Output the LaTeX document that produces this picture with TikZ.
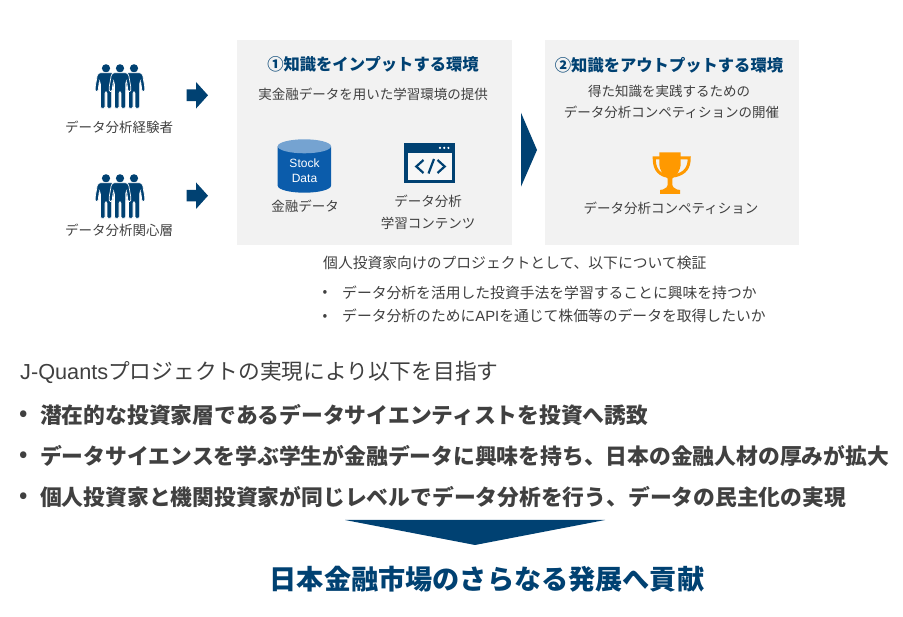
\documentclass[tikz,border=0pt]{standalone}
\usepackage{fontspec}
\setmainfont{Noto Sans CJK JP}
\newfontfamily\latinf{Liberation Sans}
\definecolor{navy}{HTML}{004172}
\definecolor{panel}{HTML}{F2F2F2}
\definecolor{txt}{HTML}{404040}
\definecolor{dbtop}{HTML}{75A3D1}
\definecolor{dbbody}{HTML}{0B5CAB}
\definecolor{gold}{HTML}{FF9900}
\newcommand{\fs}[1]{\fontsize{#1}{#1}\selectfont}
\tikzset{
 x=1pt,y=-1pt,
 lbl/.style={inner sep=0pt,text=txt,font=\fs{13.5},anchor=center},
 body/.style={lbl,font=\fs{14.8},anchor=west},
 smalldot/.style={lbl,font=\fs{14}},
 head/.style={inner sep=0pt,text=navy,font=\fs{16.3}\bfseries,anchor=center},
 big/.style={inner sep=0pt,text=txt,font=\fs{21.78}\bfseries,anchor=west},
 bigdot/.style={inner sep=0pt,text=txt,font=\fs{21}\bfseries,anchor=center},
 panelbox/.style={fill=panel,draw=none},
 navyfill/.style={fill=navy,draw=none},
 dbtext/.style={inner sep=0pt,text=white,font=\latinf\fs{12}},
 person/.pic={
  \fill[navy] (0,-4.7) circle (4.1);
  \path[fill=navy,draw=white,line width=.7,rounded corners=1.2]
   (-6.5,-.3) -- (6.5,-.3) -- (8.6,1.5) -- (10.8,14) -- (10.8,18.5) -- (8,18.5) -- (6.6,8) -- (5.6,10) -- (5.6,35.3) -- (1,35.3) -- (1,19) -- (-1,19) -- (-1,35.3) -- (-5.6,35.3) -- (-5.6,10) -- (-6.6,8) -- (-8,18.5) -- (-10.8,18.5) -- (-10.8,14) -- (-8.6,1.5) -- cycle;
 },
 peoplegroup/.pic={
  \pic at (-14,0) {person};
  \pic at (14,0) {person};
  \pic at (0,0) {person};
 },
 blockarrow/.pic={
  \fill[navy] (-10.3,-5.8) -- (-1,-5.8) -- (-1,-13.3) -- (11,0) -- (-1,13.3) -- (-1,5.8) -- (-10.3,5.8) -- cycle;
 }
}
\begin{document}
\begin{tikzpicture}
\useasboundingbox (0,0) rectangle (903,617);
\fill[white] (0,0) rectangle (903,617);
% panels
\path[panelbox] (237,40) rectangle (512,245);
\path[panelbox] (545,40) rectangle (799,245);
\path[navyfill] (521,112.7) -- (537,150) -- (521,186.7) -- cycle;
% people
\pic at (120,73) {peoplegroup};
\pic at (120,183) {peoplegroup};
\pic at (197,95.3) {blockarrow};
\pic at (197,195.7) {blockarrow};
\node[lbl] (exp) at (119,127.5) {データ分析経験者};
\node[lbl] (int) at (119,230) {データ分析関心層};
% panel 1
\node[head] (h1) at (373,64) {①知識をインプットする環境};
\node[lbl] (s1) at (373,94) {実金融データを用いた学習環境の提供};
% cylinder
\fill[dbbody] (277.7,146.3) -- (277.7,185.7) arc[start angle=180,end angle=0,x radius=26.65,y radius=7] -- (331,146.3) -- cycle;
\fill[dbtop] (304.35,146.3) ellipse[x radius=26.65,y radius=7];
\node[dbtext] (st) at (304.5,163) {Stock};
\node[dbtext] (da) at (304.5,178) {Data};
\node[lbl] (l1) at (305,206) {金融データ};
% window
\fill[navy] (404.3,143.3) rectangle (455,183.3);
\fill[white!40!panel] (407.7,153.3) rectangle (451.7,180);
\fill[white] (440,147.9) circle (1.2) (444.2,147.9) circle (1.2) (448.4,147.9) circle (1.2);
\draw[navy,line width=2.2] (423.5,160) -- (416.3,166.5) -- (423.5,173)
  (437.5,160) -- (444.7,166.5) -- (437.5,173)
  (434,159) -- (428.5,173.5);
\node[lbl] (l2) at (428,201) {データ分析};
\node[lbl] (l3) at (428,223) {学習コンテンツ};
% panel 2
\node[head] (h2) at (669,65) {②知識をアウトプットする環境};
\node[lbl] (s2) at (669,91) {得た知識を実践するための};
\node[lbl] (s3) at (671.5,112) {データ分析コンペティションの開催};
% trophy
\draw[gold,line width=3] (660,158) -- (654.2,158) .. controls (654.2,167) and (657,173.5) .. (666,176);
\draw[gold,line width=3] (680,158) -- (689.2,158) .. controls (689.2,167) and (686,173.5) .. (674,176);
\fill[gold] (659.3,152.3) -- (680.7,152.3) -- (680.7,163) .. controls (680.7,171) and (676,176.5) .. (672.3,178.5) -- (672.3,185) .. controls (672.5,187) and (674,188) .. (677,189.5) -- (680,190) -- (680,194) -- (660,194) -- (660,190) -- (663,189.5) .. controls (666,188) and (667.5,187) .. (667.7,185) -- (667.7,178.5) .. controls (664,176.5) and (659.3,171) .. (659.3,163) -- cycle;
\node[lbl] (l4) at (671,208) {データ分析コンペティション};
% mid text
\node[body] (b0) at (323,262.5) {個人投資家向けのプロジェクトとして、以下について検証};
\node[smalldot] (bu1) at (325,293.5) {•};
\node[body] (b1) at (342,292.5) {データ分析を活用した投資手法を学習することに興味を持つか};
\node[smalldot] (bu2) at (325,317) {•};
\node[body] (b2) at (342,316) {データ分析のために{\latinf API}を通じて株価等のデータを取得したいか};
% lower text
\node[inner sep=0pt,text=txt,font=\fs{21.7},anchor=west] (goal) at (20,372) {{\latinf J-Quants}プロジェクトの実現により以下を目指す};
\node[bigdot] (d1) at (23.5,416) {•};
\node[big] (t1) at (40,415) {潜在的な投資家層であるデータサイエンティストを投資へ誘致};
\node[bigdot] (d2) at (23.5,457) {•};
\node[big] (t2) at (40,456) {データサイエンスを学ぶ学生が金融データに興味を持ち、日本の金融人材の厚みが拡大};
\node[bigdot] (d3) at (23.5,498) {•};
\node[big] (t3) at (40,497) {個人投資家と機関投資家が同じレベルでデータ分析を行う、データの民主化の実現};
\path[navyfill] (345,520) -- (605,520) -- (475,545) -- cycle;
\node[inner sep=0pt,text=navy,font=\fs{27.15}\bfseries] (final) at (487,579) {日本金融市場のさらなる発展へ貢献};
\end{tikzpicture}
\end{document}
